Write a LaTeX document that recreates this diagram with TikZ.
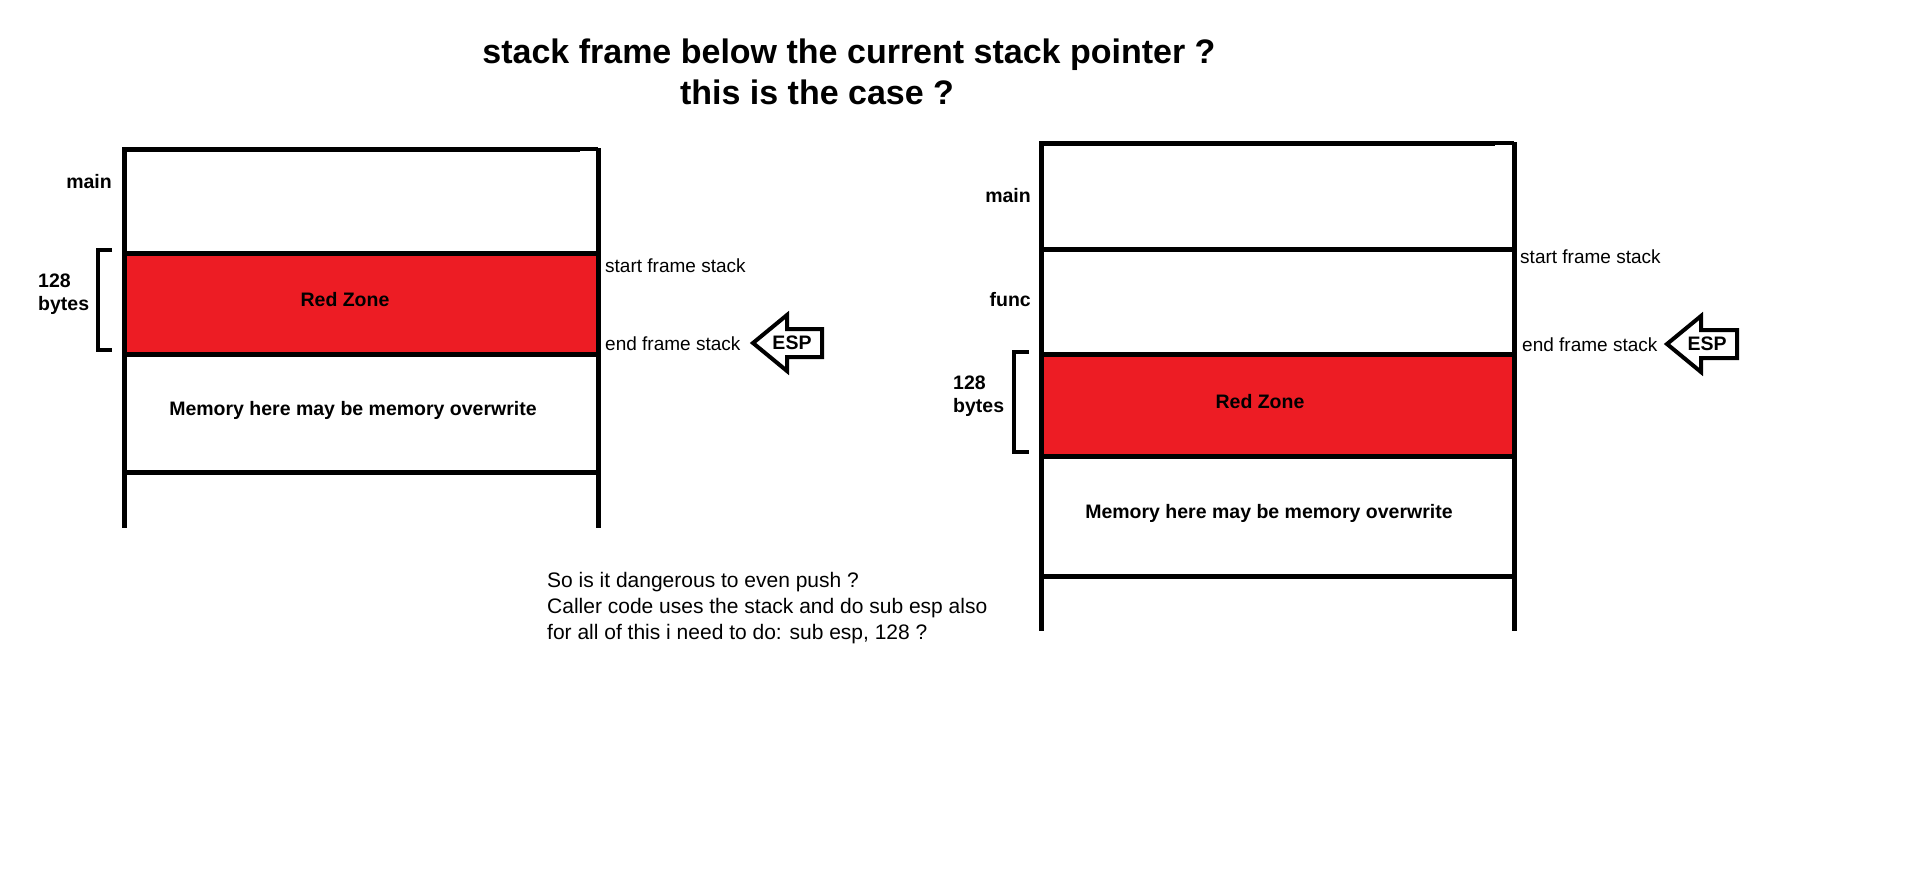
\documentclass[tikz,border=0pt]{standalone}
\usepackage{fontspec}
\setmainfont{Liberation Sans}
\usetikzlibrary{positioning}
\definecolor{zonered}{HTML}{ED1C24}
\tikzstyle{Wall} = [line width=5pt]
\tikzstyle{Brace} = [line width=4.5pt]
\tikzstyle{Pointer} = [line width=4pt, line join=miter]
\tikzstyle{Label} = [font=\fontsize{19}{23}\selectfont, inner sep=0pt]
\tikzstyle{Bold} = [font=\fontsize{19.5}{23}\selectfont\bfseries, inner sep=0pt]
\tikzstyle{Title} = [font=\fontsize{34}{40}\selectfont\bfseries, inner sep=0pt]

\begin{document}
\begin{tikzpicture}[x=1pt, y=-1pt]
    \useasboundingbox (0,0) rectangle (1914,870);

    \node[Title] (title1) at (849,55) {stack frame below the current stack pointer ?};
    \node[Title] (title2) at (817,92) {this is the case ?};

    % left stack
    \fill[zonered] (124,253) rectangle (598,354);
    \draw[Wall] (122,149) -- (580,149);
    \draw[line width=3.5pt] (580,149) -- (598,149);
    \draw[Wall] (124,147) -- (124,528);
    \draw[Wall] (598,148) -- (598,528);
    \draw[Wall] (124,253) -- (598,253);
    \draw[Wall] (124,354) -- (598,354);
    \draw[Wall] (124,472) -- (598,472);
    \draw[Brace] (112,250) -- (98,250) -- (98,350) -- (112,350);
    \node[Bold, anchor=east] (lmain) at (112,182) {main};
    \node[Bold, anchor=west, align=left] (lsize) at (38,294) {128\\bytes};
    \node[Bold] (lzone) at (345,300) {Red Zone};
    \node[Bold] (lfree) at (353,410) {Memory here may be memory overwrite};
    \node[Label, anchor=west] (lstart) at (605,266) {start frame stack};
    \node[Label, anchor=west] (lend) at (605,344) {end frame stack};
    \coordinate (lesp) at (753,343);
    \draw[Pointer] (lesp) -- ++(34,-28) -- ++(0,14) -- ++(35,0) -- ++(0,28)
        -- ++(-35,0) -- ++(0,14) -- cycle;
    \node[Bold] (lesplabel) at (792,343) {ESP};

    % right stack
    \fill[zonered] (1041,354) rectangle (1514,456);
    \draw[Wall] (1039,143) -- (1495,143);
    \draw[line width=3.5pt] (1495,143) -- (1514,143);
    \draw[Wall] (1041,141) -- (1041,631);
    \draw[Wall] (1514,142) -- (1514,631);
    \draw[Wall] (1041,249) -- (1514,249);
    \draw[Wall] (1041,354) -- (1514,354);
    \draw[Wall] (1041,456) -- (1514,456);
    \draw[Wall] (1041,576) -- (1514,576);
    \draw[Brace] (1029,352) -- (1014,352) -- (1014,452) -- (1029,452);
    \node[Bold, anchor=east] (rmain) at (1031,196) {main};
    \node[Bold, anchor=east] (rfunc) at (1031,300) {func};
    \node[Bold, anchor=west, align=left] (rsize) at (953,396) {128\\bytes};
    \node[Bold] (rzone) at (1260,402) {Red Zone};
    \node[Bold] (rfree) at (1269,513) {Memory here may be memory overwrite};
    \node[Label, anchor=west] (rstart) at (1520,257) {start frame stack};
    \node[Label, anchor=west] (rend) at (1522,345) {end frame stack};
    \coordinate (resp) at (1667,344);
    \draw[Pointer] (resp) -- ++(34,-28) -- ++(0,14) -- ++(36,0) -- ++(0,28)
        -- ++(-36,0) -- ++(0,14) -- cycle;
    \node[Bold] (resplabel) at (1707,344) {ESP};

    \node[font=\fontsize{21}{25.8}\selectfont, inner sep=0pt, anchor=west, align=left]
        (question) at (547,608) {So is it dangerous to even push ?\\Caller code uses the stack and do sub esp also\\for all of this i need to do: sub esp, 128 ?};
\end{tikzpicture}
\end{document}
